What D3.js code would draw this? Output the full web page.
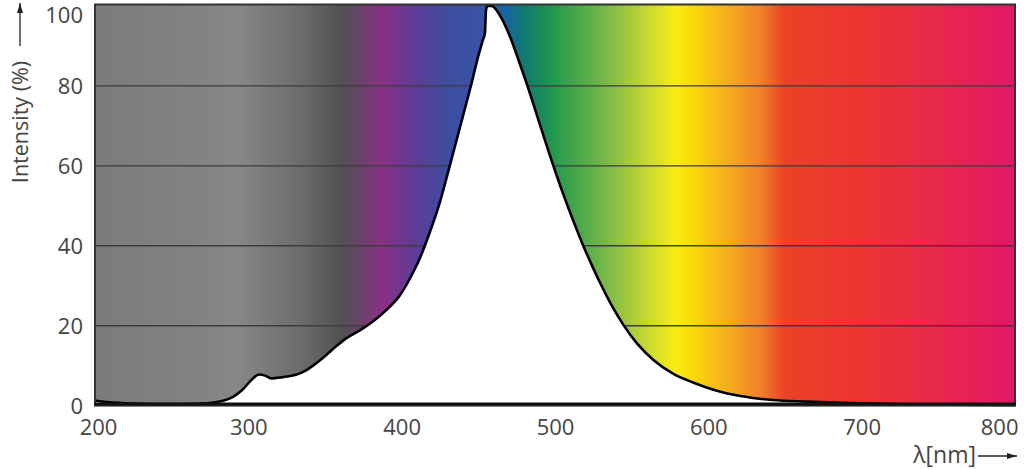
<!DOCTYPE html>
<html>
<head>
<meta charset="utf-8">
<script src="https://cdn.jsdelivr.net/npm/d3@7"></script>
<style>
  html, body { margin: 0; padding: 0; background: #fff; }
  svg { display: block; font-family: "Open Sans", "Noto Sans", sans-serif; }
</style>
</head>
<body>
<div id="chart"></div>
<script>
// spectrum readings (wavelength in nm, relative intensity in %)
const wavelengths = [200, 205, 210, 220, 240, 260, 270, 281, 290, 296, 303, 307, 311, 315, 322, 331,
    338, 347, 355, 364, 373, 381, 390, 399, 407, 412, 418, 425, 431, 438, 445, 450, 453, 454.3,
    455, 456, 458.7, 464, 470.7, 477, 483.7, 490, 496.5, 500, 504, 508, 513, 518, 523.5, 529.3,
    536.5, 544.6, 554, 564, 577, 590, 605, 621, 642, 664, 686, 720, 760, 800]
const intensity = [1.3, 1.0, 0.8, 0.6, 0.4, 0.4, 0.5, 1.0, 2.2, 3.9, 6.8, 7.8, 7.5, 6.8, 7.1, 7.7,
    8.9, 11.4, 14.1, 16.9, 18.9, 21, 23.9, 27.7, 33, 37, 43, 51, 59.5, 69.6, 79.8, 87.5, 91.5, 93.2,
    99, 100, 100, 97.7, 92.3, 85.6, 78.1, 70.5, 62.8, 58.8, 54.4, 50.2, 45.2, 40.4, 35.6, 30.8,
    25.4, 20.2, 15.3, 11.5, 8.0, 5.8, 3.8, 2.4, 1.4, 1.0, 0.7, 0.4, 0.2, 0.1]

const xTicks = [200, 300, 400, 500, 600, 700, 800]
const yTicks = [0, 20, 40, 60, 80, 100]

// background colour band, keyed by wavelength
const bandNm = [200, 268, 293, 334, 361, 387, 412, 432, 452, 467, 480, 500, 533, 559, 578, 591, 617, 634, 650, 696, 739, 800]
const bandColor = ['#7b7b7b', '#828382', '#868786', '#6c6c6c', '#505251', '#8a2f85', '#573e98', '#3b4fa0',
    '#3a53a5', '#1565a5', '#0f7a6e', '#249a4c', '#78b848', '#c5d632', '#f9ec14', '#f9d80a', '#f4a323',
    '#f0802a', '#eb4227', '#ec3530', '#e92b45', '#e21868']

const W = 1024, H = 469
const plot = {left: 95, right: 1015, top: 6, bottom: 405.6}
const ink = '#454545'

const svg = d3.select('#chart').append('svg').attr('width', W).attr('height', H)

const x = d3.scaleLinear().domain([200, 800]).range([plot.left, plot.right])
const y = d3.scaleLinear().domain([0, 100]).range([plot.bottom, plot.top])

const spectrum = wavelengths.map((w, i) => ({w: w, v: intensity[i]}))

// gradient background
const grad = svg.append('defs').append('linearGradient')
    .attr('id', 'band')
    .attr('gradientUnits', 'userSpaceOnUse')
    .attr('x1', x(200)).attr('x2', x(800))
    .attr('y1', 0).attr('y2', 0)
grad.selectAll('stop')
    .data(bandNm)
    .enter().append('stop')
    .attr('offset', d => (d - 200) / 600)
    .attr('stop-color', (d, i) => bandColor[i])

svg.append('rect')
    .attr('x', x(200)).attr('y', y(100) - 1.5)
    .attr('width', x(800) - x(200))
    .attr('height', y(0) - y(100) + 1.5)
    .attr('fill', 'url(#band)')

// horizontal grid
svg.append('g')
    .selectAll('line')
    .data(yTicks.filter(d => d > 0 && d < 100))
    .enter().append('line')
    .attr('x1', x(200)).attr('x2', x(800))
    .attr('y1', d => y(d)).attr('y2', d => y(d))
    .attr('stroke', '#3d3d3d')
    .attr('stroke-width', 1.4)

// white area under the spectrum
const area = d3.area()
    .x(d => x(d.w))
    .y0(y(0))
    .y1(d => y(d.v))
    .curve(d3.curveMonotoneX)
svg.append('path')
    .datum(spectrum)
    .attr('d', area)
    .attr('fill', '#fff')

const line = d3.line()
    .x(d => x(d.w))
    .y(d => y(d.v))
    .curve(d3.curveMonotoneX)
svg.append('path')
    .datum(spectrum)
    .attr('d', line)
    .attr('fill', 'none')
    .attr('stroke', '#000')
    .attr('stroke-width', 2.6)
    .attr('stroke-linejoin', 'round')

// frame
svg.append('rect')
    .attr('x', x(200)).attr('y', y(100) - 1.5)
    .attr('width', x(800) - x(200))
    .attr('height', y(0) - y(100) + 1.5)
    .attr('fill', 'none')
    .attr('stroke', '#333')
    .attr('stroke-width', 2)
svg.append('line')
    .attr('x1', x(200) - 1).attr('x2', x(800) + 1)
    .attr('y1', y(0) - 1.5).attr('y2', y(0) - 1.5)
    .attr('stroke', '#111')
    .attr('stroke-width', 3)

// x axis labels
const xAxis = svg.append('g')
    .attr('transform', `translate(0,${y(0)})`)
    .call(d3.axisBottom(x).tickValues(xTicks).tickSize(0).tickPadding(0))
xAxis.select('.domain').remove()
xAxis.selectAll('text')
    .attr('y', 29.5)
    .attr('dy', 0)
    .attr('font-size', 22)
    .attr('font-family', '"Open Sans", sans-serif')
    .attr('fill', ink)
    .attr('dx', d => d == 200 ? 3 : 0)
    .attr('text-anchor', d => d == 800 ? 'end' : 'middle')
    .attr('x', d => d == 800 ? 3 : 0)

// y axis labels
const yAxis = svg.append('g')
    .attr('transform', `translate(${x(200)},0)`)
    .call(d3.axisLeft(y).tickValues(yTicks).tickSize(0).tickPadding(12))
yAxis.select('.domain').remove()
yAxis.selectAll('text')
    .attr('dy', d => d == 100 ? '0.75em' : '0.34em')
    .attr('font-size', 22)
    .attr('font-family', '"Open Sans", sans-serif')
    .attr('fill', ink)

// arrow heads
const defs = svg.select('defs')
defs.append('marker')
    .attr('id', 'arrow')
    .attr('viewBox', '0 0 10 6')
    .attr('refX', 10).attr('refY', 3)
    .attr('markerWidth', 10).attr('markerHeight', 6)
    .attr('markerUnits', 'userSpaceOnUse')
    .attr('orient', 'auto')
    .append('path')
    .attr('d', 'M0,0 L10,3 L0,6 Z')
    .attr('fill', '#222')

// y title
svg.append('text')
    .attr('transform', 'translate(28,122) rotate(-90)')
    .attr('text-anchor', 'middle')
    .attr('font-size', 21.5)
    .attr('fill', ink)
    .text('Intensity (%)')
svg.append('line')
    .attr('x1', 20).attr('x2', 20)
    .attr('y1', 46).attr('y2', 3)
    .attr('stroke', '#222').attr('stroke-width', 1.3)
    .attr('marker-end', 'url(#arrow)')

// x title
svg.append('text')
    .attr('x', 976).attr('y', 463)
    .attr('text-anchor', 'end')
    .attr('font-size', 23)
    .attr('fill', ink)
    .text('λ[nm]')
svg.append('line')
    .attr('x1', 978).attr('x2', 1017)
    .attr('y1', 456).attr('y2', 456)
    .attr('stroke', '#222').attr('stroke-width', 1.3)
    .attr('marker-end', 'url(#arrow)')
</script>
</body>
</html>
